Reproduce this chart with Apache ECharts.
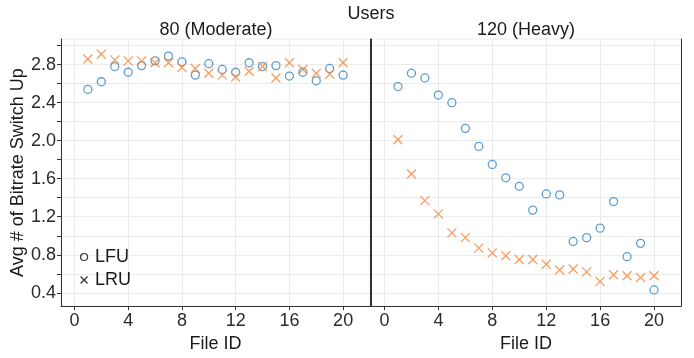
<!DOCTYPE html>
<html>
<head>
<meta charset="utf-8">
<script src="https://cdn.jsdelivr.net/npm/echarts@6/dist/echarts.min.js"></script>
<style>
html, body { margin: 0; padding: 0; background: #fff; }
#chart { width: 694px; height: 358px; }
</style>
</head>
<body>
<div id="chart"></div>
<script>
// values
var fileIds = [1, 2, 3, 4, 5, 6, 7, 8, 9, 10, 11, 12, 13, 14, 15, 16, 17, 18, 19, 20];
var moderateLFU = [2.54, 2.62, 2.78, 2.72, 2.79, 2.84, 2.89, 2.83, 2.69, 2.81, 2.75, 2.72, 2.82, 2.78, 2.79, 2.68, 2.72, 2.63, 2.76, 2.69];
var moderateLRU = [2.86, 2.91, 2.85, 2.84, 2.84, 2.82, 2.82, 2.77, 2.76, 2.71, 2.69, 2.67, 2.73, 2.78, 2.66, 2.82, 2.75, 2.71, 2.70, 2.82];
var heavyLFU = [2.57, 2.71, 2.66, 2.48, 2.40, 2.13, 1.94, 1.75, 1.61, 1.52, 1.27, 1.44, 1.43, 0.94, 0.98, 1.08, 1.36, 0.78, 0.92, 0.43];
var heavyLRU = [2.01, 1.65, 1.37, 1.23, 1.03, 0.98, 0.87, 0.82, 0.79, 0.75, 0.75, 0.70, 0.64, 0.65, 0.62, 0.52, 0.59, 0.58, 0.56, 0.58];
var panelTitles = ['80 (Moderate)', '120 (Heavy)'];
var yTicks = [0.4, 0.6, 0.8, 1.0, 1.2, 1.4, 1.6, 1.8, 2.0, 2.2, 2.4, 2.6, 2.8, 3.0];
var yLabels = [0.4, 0.8, 1.2, 1.6, 2.0, 2.4, 2.8];
var xTicks = [0, 4, 8, 12, 16, 20];

var FONT = "'Liberation Sans', Arial, sans-serif";
var BLUE = '#3584c4';
var ORANGE = '#f5863a';
var CROSS = 'path://M0,0L10,10M10,0L0,10';

function pairs(ys) {
  return fileIds.map(function (x, i) { return [x, ys[i]]; });
}

function xAxisFor(idx) {
  return {
    type: 'value', gridIndex: idx, min: -1, max: 22,
    name: 'File ID', nameLocation: 'middle', nameGap: 27,
    nameTextStyle: { fontSize: 18, color: '#1a1a1a', fontFamily: FONT },
    axisLine: { show: true, onZero: false, lineStyle: { color: '#333', width: 1 } },
    axisTick: { show: true, customValues: xTicks, length: 4, lineStyle: { color: '#333' } },
    axisLabel: { customValues: xTicks, fontSize: 18, color: '#2b2b2b', fontFamily: FONT, margin: 6 },
    splitLine: { show: true, lineStyle: { color: '#ebebeb', width: 1 } }
  };
}

function yAxisFor(idx, withLabels) {
  return {
    type: 'value', gridIndex: idx, min: 0.26, max: 3.07,
    name: withLabels ? 'Avg # of Bitrate Switch Up' : '',
    nameLocation: 'middle', nameGap: 24,
    nameTextStyle: { fontSize: 18, color: '#1a1a1a', fontFamily: FONT },
    axisLine: { show: true, onZero: false, lineStyle: { color: '#333', width: 1 } },
    axisTick: { show: withLabels, customValues: yTicks, length: 4, lineStyle: { color: '#333' } },
    axisLabel: { show: withLabels, customValues: yLabels, fontSize: 18, color: '#2b2b2b', fontFamily: FONT, margin: 5,
      formatter: function (v) { return v.toFixed(1); } },
    splitLine: { show: true, lineStyle: { color: '#ebebeb', width: 1 } }
  };
}

function borderAxis(idx) {
  return {
    type: 'value', gridIndex: idx, position: 'right', min: 0.26, max: 3.07,
    axisLine: { show: true, onZero: false, lineStyle: { color: '#333', width: 1 } },
    axisTick: { show: false }, axisLabel: { show: false }, splitLine: { show: false }
  };
}

function lfuSeries(idx, ys) {
  return {
    name: 'LFU', type: 'scatter', xAxisIndex: idx, yAxisIndex: idx * 2,
    symbol: 'circle', symbolSize: 8,
    itemStyle: { color: 'rgba(0,0,0,0)', borderColor: BLUE, borderWidth: 1.3 },
    data: pairs(ys)
  };
}

function lruSeries(idx, ys) {
  return {
    name: 'LRU', type: 'scatter', xAxisIndex: idx, yAxisIndex: idx * 2,
    symbol: CROSS, symbolSize: 9,
    itemStyle: { color: 'rgba(0,0,0,0)', borderColor: ORANGE, borderWidth: 1.3 },
    data: pairs(ys)
  };
}

var chart = echarts.init(document.getElementById('chart'));
chart.setOption({
  animation: false,
  backgroundColor: '#fff',
  title: [
    { text: 'Users', left: 371, top: 5, padding: 0, textAlign: 'center',
      textStyle: { fontSize: 18, fontWeight: 'normal', color: '#1a1a1a', fontFamily: FONT } },
    { text: panelTitles[0], left: 216, top: 21, padding: 0, textAlign: 'center',
      textStyle: { fontSize: 18, fontWeight: 'normal', color: '#1a1a1a', fontFamily: FONT } },
    { text: panelTitles[1], left: 526, top: 21, padding: 0, textAlign: 'center',
      textStyle: { fontSize: 18, fontWeight: 'normal', color: '#1a1a1a', fontFamily: FONT } }
  ],
  grid: [
    { left: 61, top: 39, width: 309, height: 269, show: true, borderColor: '#ebebeb', borderWidth: 1, backgroundColor: '#fff' },
    { left: 371, top: 39, width: 310, height: 269, show: true, borderColor: '#ebebeb', borderWidth: 1, backgroundColor: '#fff' }
  ],
  legend: {
    orient: 'vertical', left: 80, top: 248, padding: 0,
    itemWidth: 12, itemHeight: 7, itemGap: 5,
    textStyle: { fontSize: 18, color: '#1a1a1a', fontFamily: FONT, lineHeight: 16 },
    data: [
      { name: 'LFU', icon: 'circle', itemStyle: { color: 'rgba(0,0,0,0)', borderColor: '#000', borderWidth: 1.2 } },
      { name: 'LRU', icon: CROSS, itemStyle: { color: 'rgba(0,0,0,0)', borderColor: '#000', borderWidth: 1.2 } }
    ]
  },
  xAxis: [xAxisFor(0), xAxisFor(1)],
  yAxis: [yAxisFor(0, true), borderAxis(0), yAxisFor(1, false), borderAxis(1)],
  series: [
    lfuSeries(0, moderateLFU),
    lruSeries(0, moderateLRU),
    lfuSeries(1, heavyLFU),
    lruSeries(1, heavyLRU)
  ]
});
</script>
</body>
</html>
